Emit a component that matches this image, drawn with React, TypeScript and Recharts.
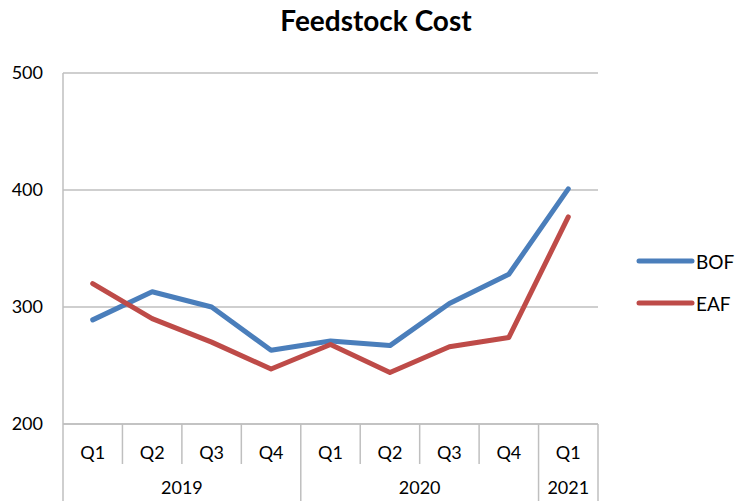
import React from 'react';
import { LineChart, Line, XAxis, YAxis, CartesianGrid } from 'recharts';

const periods = ['2019 Q1', '2019 Q2', '2019 Q3', '2019 Q4', '2020 Q1', '2020 Q2', '2020 Q3', '2020 Q4', '2021 Q1'];
const quarters = ['Q1', 'Q2', 'Q3', 'Q4', 'Q1', 'Q2', 'Q3', 'Q4', 'Q1'];
const years = ['2019', '2019', '2019', '2019', '2020', '2020', '2020', '2020', '2021'];
const bofValues = [289, 313, 300, 263, 271, 267, 303, 328, 401];
const eafValues = [320, 290, 270, 247, 268, 244, 266, 274, 377];
const yTicks = [200, 300, 400, 500];
const seriesNames = ['BOF', 'EAF'];

const BLUE = '#4A7EBB';
const RED = '#BE4B48';
const GRAY = '#BFBFBF';
const FONT = 'Lato, "Open Sans", sans-serif';

const data = periods.map((p, i) => ({
  period: p,
  q: quarters[i],
  year: years[i],
  BOF: bofValues[i],
  EAF: eafValues[i],
}));

const XTick = (props: any) => {
  const { x, y, index, width, payload } = props;
  const n = quarters.length;
  const half = typeof width === 'number' && width > 0 ? width / n / 2 : payload?.offset ?? 0;
  const left = x - half;
  const yr = years[index];
  const first = years.indexOf(yr);
  const count = years.filter((v) => v === yr).length;
  const isFirst = first === index;
  const bottom = y + 80;
  return (
    <g>
      <text x={x} y={y + 28} textAnchor="middle" dominantBaseline="central" fontFamily={FONT} fontSize={18} fill="#000">
        {quarters[index]}
      </text>
      {isFirst ? (
        <line x1={left} x2={left} y1={y} y2={bottom} stroke={GRAY} strokeWidth={1.5} />
      ) : (
        <line x1={left} x2={left} y1={y} y2={y + 40} stroke={GRAY} strokeWidth={1.5} />
      )}
      {index === n - 1 && <line x1={x + half} x2={x + half} y1={y} y2={bottom} stroke={GRAY} strokeWidth={1.5} />}
      {isFirst && (
        <text x={left + count * half} y={y + 63} textAnchor="middle" dominantBaseline="central" fontFamily={FONT} fontSize={18} fill="#000">
          {yr}
        </text>
      )}
    </g>
  );
};

export default function App() {
  return (
    <div style={{ position: 'absolute', left: 0, top: 0, width: 735, height: 501, background: '#fff' }}>
      <div
        style={{
          position: 'absolute',
          left: 376 - 150,
          width: 300,
          top: 3,
          textAlign: 'center',
          fontFamily: FONT,
          fontWeight: 700,
          fontSize: 28,
          color: '#000',
        }}
      >
        Feedstock Cost
      </div>
      <LineChart width={735} height={501} data={data} margin={{ top: 73, right: 137, bottom: 0, left: 0 }}>
        <CartesianGrid vertical={false} stroke={GRAY} strokeWidth={1.5} />
        <XAxis
          dataKey="period"
          scale="band"
          height={77}
          interval={0}
          tickLine={false}
          tickSize={0}
          tickMargin={0}
          axisLine={{ stroke: GRAY, strokeWidth: 1.5 }}
          tick={<XTick />}
        />
        <YAxis
          width={63}
          domain={[200, 500]}
          ticks={yTicks}
          interval={0}
          tickLine={false}
          tickSize={0}
          tickMargin={20}
          axisLine={{ stroke: GRAY, strokeWidth: 1.5 }}
          tick={{ fontFamily: FONT, fontSize: 18, fill: '#000' }}
        />
        <Line dataKey="BOF" stroke={BLUE} strokeWidth={5} dot={false} strokeLinecap="round" strokeLinejoin="round" isAnimationActive={false} />
        <Line dataKey="EAF" stroke={RED} strokeWidth={5} dot={false} strokeLinecap="round" strokeLinejoin="round" isAnimationActive={false} />
      </LineChart>
      <svg style={{ position: 'absolute', left: 630, top: 240 }} width={105} height={80}>
        {seriesNames.map((name, i) => (
          <g key={name}>
            <line x1={9} x2={62} y1={21 + i * 42} y2={21 + i * 42} stroke={i === 0 ? BLUE : RED} strokeWidth={5} strokeLinecap="round" />
            <text x={66} y={21 + i * 42} dominantBaseline="central" fontFamily={FONT} fontSize={19} fill="#000">
              {name}
            </text>
          </g>
        ))}
      </svg>
    </div>
  );
}
